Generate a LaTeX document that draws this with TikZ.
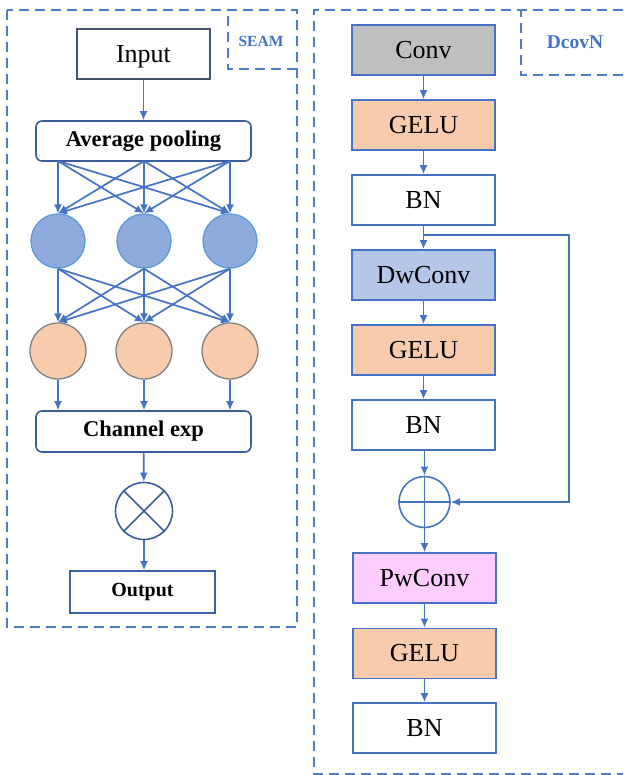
\documentclass[tikz,border=0pt]{standalone}
\usepackage{fontspec}
\setmainfont{Liberation Serif}
\usetikzlibrary{arrows.meta}
\definecolor{lblue}{HTML}{4472C4}
\definecolor{dashc}{HTML}{4F7CCB}
\definecolor{slate}{HTML}{44546A}
\definecolor{navy}{HTML}{3A5E9C}
\definecolor{cfill}{HTML}{8FAADC}
\definecolor{cbord}{HTML}{5B9BD5}
\definecolor{ofill}{HTML}{F8CBAD}
\definecolor{obord}{HTML}{808080}
\definecolor{gfill}{HTML}{BFBFBF}
\definecolor{dwfill}{HTML}{B4C7E7}
\definecolor{pwfill}{HTML}{FFCCFF}
\tikzset{
  x=1pt, y=-1pt,
  dashbox/.style={draw=dashc, line width=1.6pt, dash pattern=on 10pt off 6pt},
  conn/.style={draw=lblue, line width=1.7pt, -{Latex[length=9pt,width=8pt]}},
  rbox/.style={draw=lblue, line width=1.7pt, minimum width=143pt, minimum height=50pt, inner sep=0pt, font=\fontsize{26}{28}\selectfont},
  lbox/.style={line width=1.6pt, inner sep=0pt, font=\fontsize{22.5}{24}\bfseries\selectfont},
  bcirc/.style={circle, draw=cbord, fill=cfill, line width=1.3pt, minimum size=54pt, inner sep=0pt},
  ocirc/.style={circle, draw=obord, fill=ofill, line width=1.3pt, minimum size=56pt, inner sep=0pt},
  opcirc/.style={circle, draw=navy, line width=1.6pt, inner sep=0pt},
  lbl/.style={text=lblue, font=\bfseries\selectfont}
}
\begin{document}
\begin{tikzpicture}
\useasboundingbox (0,0) rectangle (623,775);
% left frame
\draw[dashbox] (7,10) rectangle (297,627);
\draw[dashbox] (297,69) -- (228,69) -- (228,10);
\node[lbl, font=\fontsize{15.5}{17}\bfseries\selectfont] (seam) at (261,41) {SEAM};
% right frame
\draw[dashbox] (623,10) -- (314,10) -- (314,774) -- (623,774);
\draw[dashbox] (623,75) -- (521,75) -- (521,10);
\node[lbl, font=\fontsize{19.5}{21}\bfseries\selectfont] (dcovn) at (575,42) {DcovN};

% SEAM
\node[draw=slate, line width=1.6pt, minimum width=133pt, minimum height=50pt, inner sep=0pt, text height=17pt, text depth=0pt, font=\fontsize{26}{28}\selectfont] (input) at (143.5,54) {Input};
\node[lbox, draw=navy, rounded corners=6pt, minimum width=215pt, minimum height=40pt] (avg) at (143.5,141) {Average pooling};
\node[lbox, draw=navy, rounded corners=6pt, minimum width=215pt, minimum height=41pt] (chexp) at (143.5,431.5) {Channel exp};
\node[opcirc, minimum size=57pt] (mul) at (144,511) {};
\draw[navy, line width=1.6pt] (mul.45) -- (mul.225) (mul.135) -- (mul.315);
\node[lbox, draw=navy!80!lblue, minimum width=145pt, minimum height=42pt, font=\fontsize{20}{22}\bfseries\selectfont] (output) at (142.5,592) {Output};

\foreach \i/\xx in {1/58,2/144,3/230}{
  \node[bcirc] (b\i) at (\xx,241) {};
  \node[ocirc] (o\i) at (\xx,351) {};
  \coordinate (s\i) at (\xx,161);
}
\foreach \i in {1,2,3}{
  \foreach \j in {1,2,3}{
    \draw[conn] (s\i) -- (b\j.north);
    \draw[conn] (b\i.south) -- (o\j.north);
  }
  \draw[conn] (o\i.south) -- (o\i.south |- chexp.north);
}
\draw[conn] (input) -- (avg);
\draw[conn] (chexp) -- (mul);
\draw[conn] (mul.south) -- (mul.south |- output.north);

% DcovN
\node[rbox, fill=gfill] (conv) at (423.5,50) {Conv};
\node[rbox, fill=ofill] (gelu1) at (423.5,125) {GELU};
\node[rbox, fill=white] (bn1) at (423.5,200) {BN};
\node[rbox, fill=dwfill] (dw) at (423.5,275) {DwConv};
\node[rbox, fill=ofill] (gelu2) at (423.5,350) {GELU};
\node[rbox, fill=white] (bn2) at (423.5,425) {BN};
\node[circle, draw=lblue, line width=1.6pt, minimum size=51pt, inner sep=0pt] (add) at (424.5,502) {};
\draw[lblue, line width=1.6pt] (add.north) -- (add.south) (add.west) -- (add.east);
\node[rbox, fill=pwfill] (pw) at (424.5,578) {PwConv};
\node[rbox, fill=ofill] (gelu3) at (424.5,653.5) {GELU};
\node[rbox, fill=white] (bn3) at (424.5,728) {BN};

\draw[conn] (conv) -- (gelu1);
\draw[conn] (gelu1) -- (bn1);
\draw[conn] (bn1) -- (dw);
\draw[conn] (dw) -- (gelu2);
\draw[conn] (gelu2) -- (bn2);
\draw[conn] (bn2.south -| add.north) -- (add.north);
\draw[conn] (add) -- (pw);
\draw[conn] (pw) -- (gelu3);
\draw[conn] (gelu3) -- (bn3);
\coordinate (br) at (423.5,235);
\coordinate (rc) at (569,235);
\draw[conn] (br) -- (rc) |- (add.east);
\end{tikzpicture}
\end{document}
